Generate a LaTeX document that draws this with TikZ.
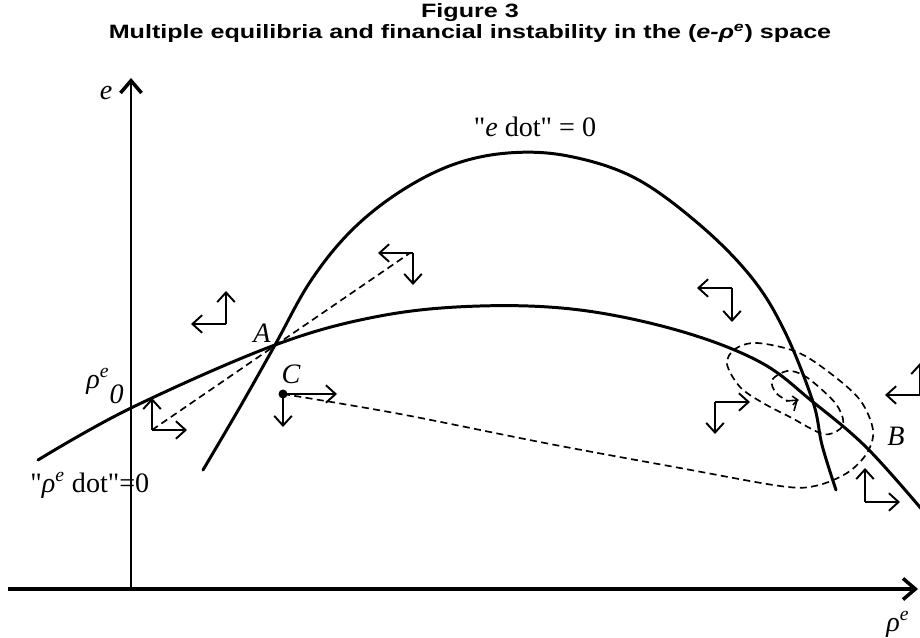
\documentclass[tikz,border=0pt]{standalone}
\usepackage{fontspec}
\setmainfont{Liberation Serif}
\newfontfamily\titlefont[FakeStretch=1.3]{Liberation Sans}
\usetikzlibrary{arrows.meta}
\tikzset{
  axisline/.style={line width=2pt, -{Straight Barb[length=7pt, width=12pt, line width=2pt]}},
  locus/.style={line width=1.7pt, line cap=round},
  trajline/.style={dash pattern=on 4pt off 2.5pt, line width=0.95pt},
  force/.style={line width=1.1pt, -{Straight Barb[length=5.5pt, width=10pt]}},
  lbl/.style={font=\fontsize{16}{18}\selectfont, inner sep=0pt},
  ttl/.style={font=\titlefont\bfseries\fontsize{11}{12.5}\selectfont, align=center, inner sep=0pt}
}
% corner arrows: corner, horizontal length, vertical length
\newcommand{\dirpair}[3]{\draw[force] (#1) -- ++(#2,0); \draw[force] (#1) -- ++(0,#3);}
\newcommand{\qq}{\textquotedbl}

\begin{document}
\begin{tikzpicture}[x=0.02cm, y=-0.02cm]
  \useasboundingbox (0,0) rectangle (920,638);

  % Title
  \node[ttl] (title) at (470,23) {Figure 3\\Multiple equilibria and financial instability in the ({\itshape e-ρ\textsuperscript{e}}) space};

  % Axes
  \coordinate (O) at (131,589);
  \draw[axisline] (8,589) -- (918,589);
  \draw[axisline, line width=1.7pt] (O) -- (131,78);
  \node[lbl] (elab) at (106,93) {\itshape e};
  \node[lbl] (rlab) at (898,624) {\itshape ρ\textsuperscript{e}};

  % Equilibria
  \coordinate (A) at (275,345);
  \coordinate (B) at (813,402);
  \coordinate (C) at (283,394);

  % "rho dot" = 0 locus
  \draw[locus] plot[smooth, tension=0.6] coordinates {(38,460) (131,408) (A) (380,316) (480,306) (580,310) (680,331) (760,362) (B) (867,448) (924,512)};
  % "e dot" = 0 locus
  \draw[locus] plot[smooth, tension=0.6] coordinates {(203,470) (240,407) (A) (310,282) (350,232) (398,193) (452,165) (508,153) (568,156) (635,178) (700,225) (752,278) (785,332) (B) (822,445) (836,490)};

  % Trajectories
  \draw[trajline] (152,430) -- (410,253);
  \draw[trajline] plot[smooth, tension=0.55] coordinates {(C) (400,414) (550,444) (680,468) (780,486) (815,486) (847,473) (867,453) (873,430) (860,400) (830,373) (797,352) (757,343) (735,349) (727,364) (740,387) (763,403) (790,417) (823,434) (840,429) (843,419) (836,404) (820,388) (803,375) (787,371) (772,380) (776,393) (788,401)};
  \draw[line width=0.9pt, -{Straight Barb[length=3pt, width=5pt]}] (786,401) -- (799,400);
  \draw[line width=0.9pt] (797,400) -- (794,411);

  % Labels
  \node[lbl] (edot) at (535,127) {\qq{\itshape e} dot\qq{} = 0};
  \node[lbl, anchor=west] (rdot) at (30,485) {\qq{\itshape ρ\textsuperscript{e}} dot\qq=0};
  \node[lbl, anchor=base east] (r0) at (124,389) {{\itshape ρ\textsuperscript{e}}\raisebox{-1.1ex}{\itshape 0}};
  \node[lbl] (Alab) at (262,333) {\itshape A};
  \node[lbl] (Clab) at (291,374) {\itshape C};
  \node[lbl] (Blab) at (896,436) {\itshape B};
  \fill (C) circle (4.5);

  % Direction arrows
  \dirpair{152,430}{35}{-32}
  \dirpair{413,253}{-35}{32}
  \dirpair{226,324}{-35}{-33}
  \dirpair{C}{54}{33}
  \dirpair{732,288}{-35}{34}
  \dirpair{715,402}{35}{32}
  \dirpair{920,395}{-35}{-32}
  \dirpair{865,502}{35}{-34}
\end{tikzpicture}
\end{document}
